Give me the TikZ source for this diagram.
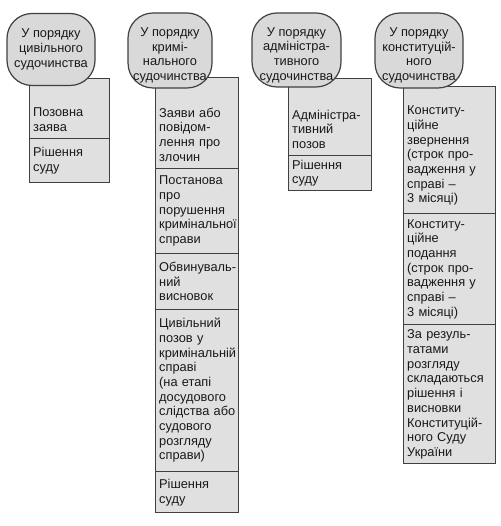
\documentclass[tikz,border=0pt]{standalone}
\usepackage{fontspec}
\setmainfont{Liberation Sans}
\usetikzlibrary{positioning}

\newcommand{\boxfont}{\fontsize{12.8}{14.7}\selectfont\hyphenpenalty=10000\exhyphenpenalty=10000}

\begin{document}
\begin{tikzpicture}[x=1pt, y=-1pt,
    frame/.style={draw=black!75, fill=black!12, line width=1.2pt, anchor=north west, inner sep=0pt},
    head/.style={draw=black!75, fill=black!15, line width=1.2pt, rounded corners=25pt, inner sep=0pt},
    headtext/.style={align=center, font=\boxfont, text=black!90, inner sep=0pt},
    cell/.style={text width=#1, align=left, font=\boxfont, text=black!90, inner xsep=4pt, inner ysep=0pt},
    rule/.style={draw=black!75, line width=1.2pt}]
    \useasboundingbox (0,0) rectangle (500,526);

    \node[frame, minimum width=80pt, minimum height=104pt] (civf) at (29,78) {};
    \node[frame, minimum width=83pt, minimum height=435pt] (krf) at (155,77) {};
    \node[frame, minimum width=83pt, minimum height=112pt] (adf) at (288,78) {};
    \node[frame, minimum width=92pt, minimum height=377pt] (kof) at (403,86) {};

    \node[head, minimum width=88pt, minimum height=72pt] (civ) at (51,49.5) {};
    \node[head, minimum width=84pt, minimum height=75pt] (kr) at (170,50.5) {};
    \node[head, minimum width=89pt, minimum height=74pt] (ad) at (296.5,50) {};
    \node[head, minimum width=88pt, minimum height=75pt] (ko) at (419,50.5) {};

    \node[headtext] (civt) at (civ.center) {У порядку\\цивільного\\судочинства};
    \node[headtext] (krt) at ([yshift=-5pt]kr.center) {У порядку\\кримі-\\нального\\судочинства};
    \node[headtext] (adt) at ([yshift=-5pt]ad.center) {У порядку\\адміністра-\\тивного\\судочинства};
    \node[headtext] (kot) at ([yshift=-5pt]ko.center) {У порядку\\конституцій-\\ного\\судочинства};

    \node[cell=72pt, anchor=north west, minimum height=37pt] (civa) at (29,101) {Позовна\\заява};
    \node[cell=72pt, minimum height=44pt, below=0pt of civa] (civb) {Рішення\\суду};

    \node[cell=75pt, anchor=north west, minimum height=67pt] (kra) at (155,101) {Заяви~або\\повідом-\\лення~про\\злочин};
    \node[cell=75pt, minimum height=85pt, below=0pt of kra] (krb) {Постанова\\про\\порушення\\кримінальної\\справи};
    \node[cell=75pt, minimum height=55pt, below=0pt of krb] (krc) {Обвинуваль-\\ний\\висновок};
    \node[cell=75pt, minimum height=162pt, below=0pt of krc] (krd) {Цивільний\\позов~у\\кримінальній\\справі\\(на~етапі\\досудового\\слідства~або\\судового\\розгляду\\справи)};
    \node[cell=75pt, minimum height=42pt, below=0pt of krd] (kre) {Рішення\\суду};

    \node[cell=75pt, anchor=north west, minimum height=52pt] (ada) at (288,103) {Адміністра-\\тивний\\позов};
    \node[cell=75pt, minimum height=35pt, below=0pt of ada] (adb) {Рішення\\суду};

    \node[cell=84pt, anchor=north west, minimum height=115pt] (koa) at (403,98) {Конститу-\\ційне\\звернення\\(строк~про-\\вадження~у\\справі~--\\3~місяці)};
    \node[cell=84pt, minimum height=111pt, below=0pt of koa] (kob) {Конститу-\\ційне\\подання\\(строк~про-\\вадження~у\\справі~--\\3~місяці)};
    \node[cell=84pt, minimum height=139pt, below=0pt of kob] (koc) {За~резуль-\\татами\\розгляду\\складаються\\рішення~і\\висновки\\Конституцій-\\ного~Суду\\України};

    \draw[rule] (civa.south west) -- (civa.south east);
    \draw[rule] (kra.south west) -- (kra.south east);
    \draw[rule] (krb.south west) -- (krb.south east);
    \draw[rule] (krc.south west) -- (krc.south east);
    \draw[rule] (krd.south west) -- (krd.south east);
    \draw[rule] (ada.south west) -- (ada.south east);
    \draw[rule] (koa.south west) -- (koa.south east);
    \draw[rule] (kob.south west) -- (kob.south east);
\end{tikzpicture}
\end{document}
